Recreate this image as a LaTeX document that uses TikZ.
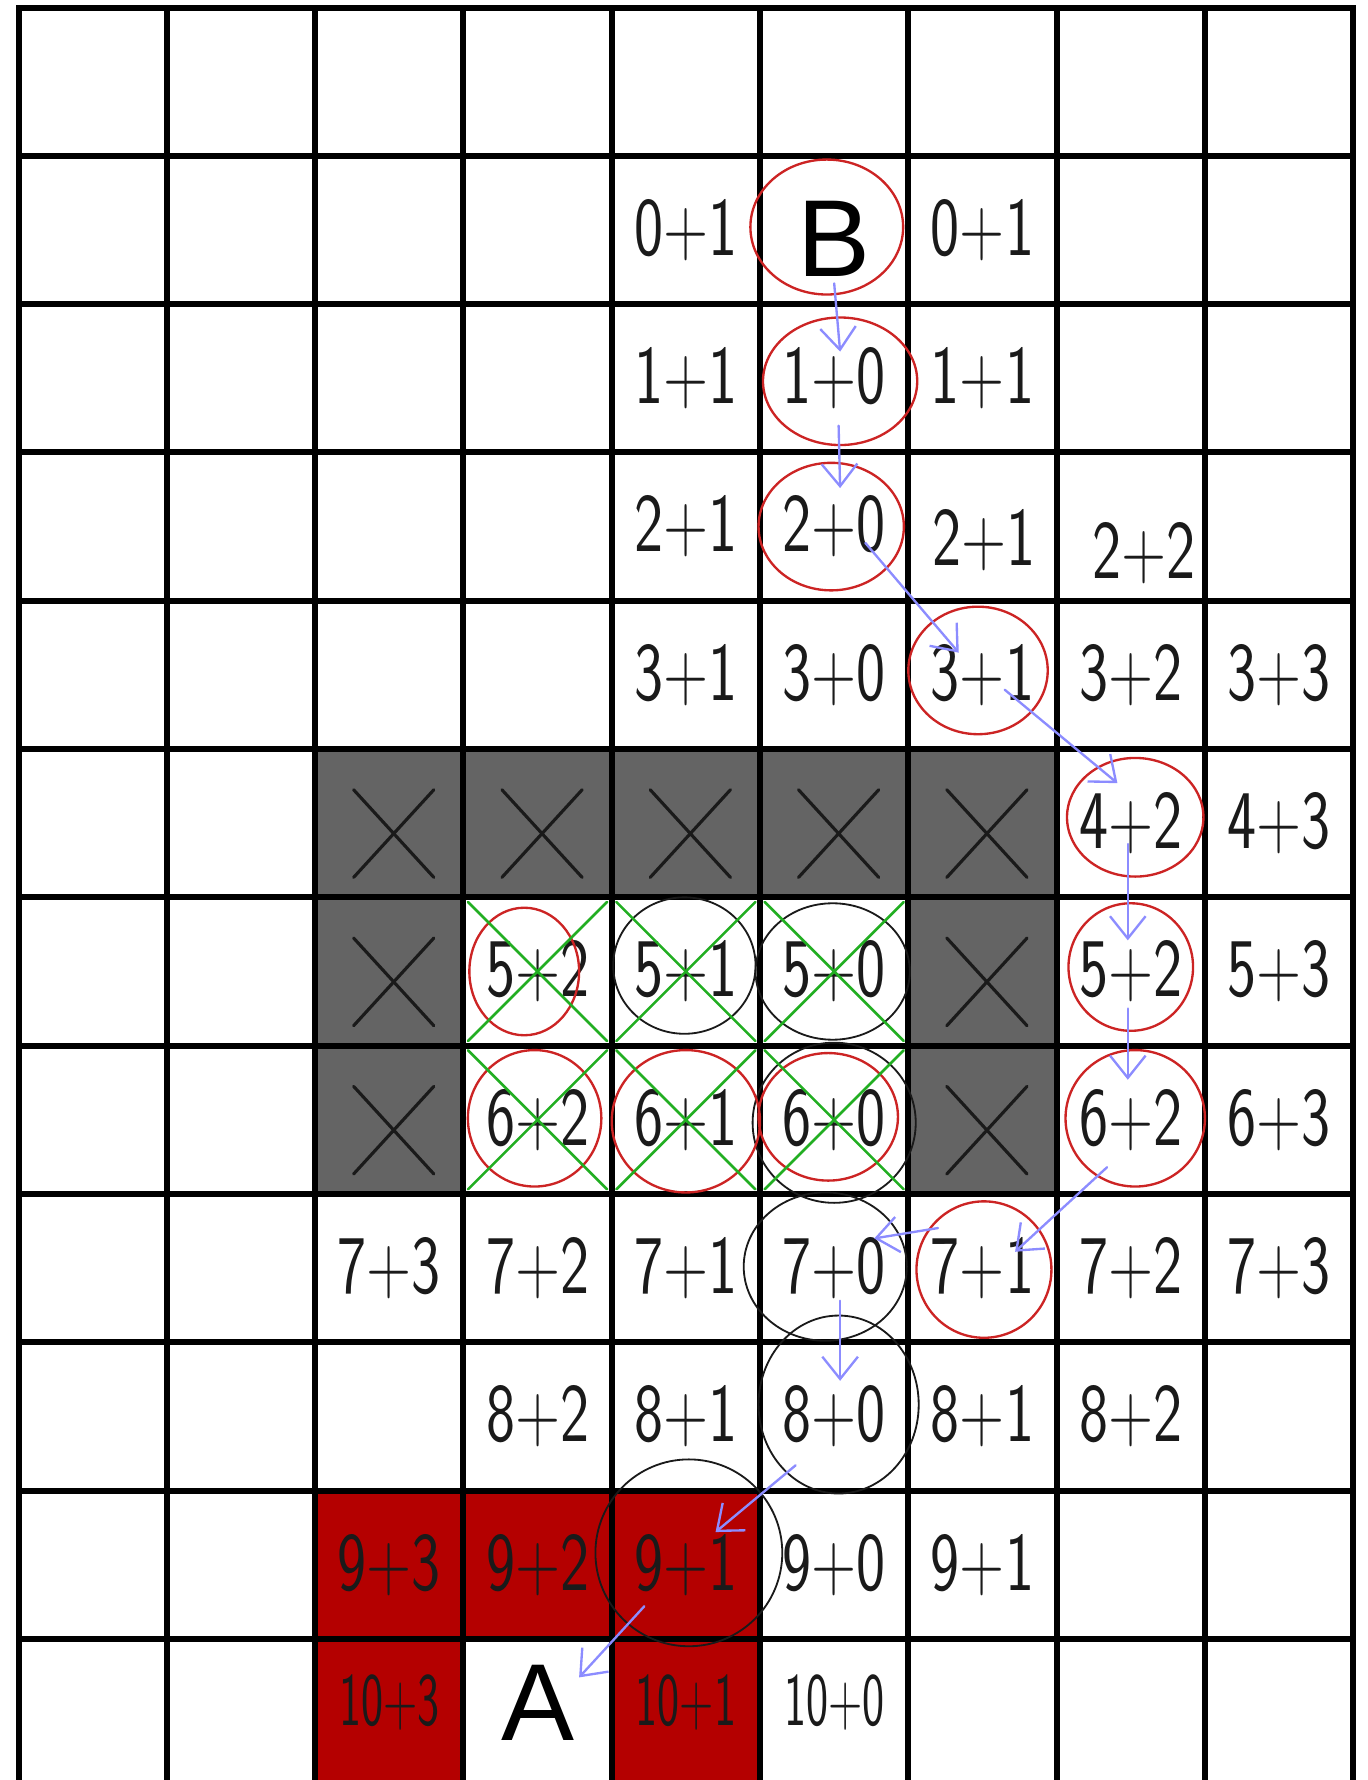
\documentclass[tikz,border=0pt]{standalone}
\usepackage{graphicx}
\usepackage{fontspec}
\newfontfamily\letterfont{Liberation Sans}
\usetikzlibrary{arrows.meta,calc,shapes.geometric,shapes.misc}
\definecolor{wall}{HTML}{646464}
\definecolor{goal}{HTML}{B40000}
\definecolor{ring}{HTML}{CC2424}
\definecolor{pen}{HTML}{1A1A1A}
\definecolor{drop}{HTML}{22AE22}
\definecolor{route}{HTML}{8C8CFF}
\newcommand{\hand}[1]{\scalebox{0.74}[1]{#1}}
\newcommand{\handsmall}[1]{\scalebox{0.62}[1]{#1}}
\tikzset{
  >={Straight Barb[length=3mm,width=4.8mm]},
  every picture/.style={line cap=round, line join=round},
  gridline/.style={draw=black, line width=2.3pt, line cap=rect},
  val/.style={font=\sffamily\fontsize{32}{32}\selectfont, text=pen, inner sep=1pt},
  smallval/.style={val, font=\sffamily\fontsize{29}{29}\selectfont},
  letter/.style={font=\letterfont\fontsize{42}{42}\selectfont, text=black, inner sep=1pt},
  blocked/.style={cross out, draw=pen, line width=1.2pt, minimum width=1.04cm,
    minimum height=1.14cm, inner sep=0pt},
  dropped/.style={cross out, draw=drop, line width=1pt, minimum width=1.84cm,
    minimum height=1.84cm, inner sep=0pt},
  redring/.style={ellipse, draw=ring, line width=0.9pt, inner sep=0pt},
  blackring/.style={ellipse, draw=pen, line width=0.7pt, inner sep=0pt},
  routearr/.style={->, draw=route, line width=0.9pt},
}
\begin{document}
\begin{tikzpicture}[x=2cm, y=2cm]
  \useasboundingbox (-0.125,0.051) rectangle (9.093,-11.952);
  \clip (-0.125,0.051) rectangle (9.093,-11.952);
  % blocked and target cells
  \fill[wall] (2,-5) rectangle (7,-6);
  \fill[wall] (2,-6) rectangle (3,-8);
  \fill[wall] (6,-6) rectangle (7,-8);
  \fill[goal] (2,-10) rectangle (5,-11);
  \fill[goal] (2,-11) rectangle (3,-12);
  \fill[goal] (4,-11) rectangle (5,-12);
  % grid
  \foreach \c in {0,...,9} \draw[gridline] (\c,0) -- (\c,-12);
  \foreach \r in {0,...,12} \draw[gridline] (0,-\r) -- (9,-\r);
  % costs
  \foreach \c/\r/\t in {4/1/0+1, 6/1/0+1,
      4/2/1+1, 5/2/1+0, 6/2/1+1,
      4/3/2+1, 5/3/2+0,
      4/4/3+1, 5/4/3+0, 6/4/3+1, 7/4/3+2, 8/4/3+3,
      7/5/4+2, 8/5/4+3,
      3/6/5+2, 4/6/5+1, 5/6/5+0, 7/6/5+2, 8/6/5+3,
      3/7/6+2, 4/7/6+1, 5/7/6+0, 7/7/6+2, 8/7/6+3,
      2/8/7+3, 3/8/7+2, 4/8/7+1, 5/8/7+0, 6/8/7+1, 7/8/7+2, 8/8/7+3,
      3/9/8+2, 4/9/8+1, 5/9/8+0, 6/9/8+1, 7/9/8+2,
      2/10/9+3, 3/10/9+2, 4/10/9+1, 5/10/9+0, 6/10/9+1}
    \node[val] (v\r-\c) at (\c+0.5,-\r-0.5) {\hand{\t}};
  \node[val] (v3-6) at (6.51,-3.59) {\hand{2+1}};
  \node[val] (v3-7) at (7.59,-3.68) {\hand{2+2}};
  \foreach \c/\t in {2/10+3, 4/10+1, 5/10+0}
    \node[smallval] (v11-\c) at (\c+0.5,-11.43) {\handsmall{\t}};
  \node[letter] (B) at (5.5,-1.56) {B};
  \node[letter] (A) at (3.5,-11.43) {A};
  % walls
  \foreach \c/\r in {2/5,3/5,4/5,5/5,6/5,2/6,6/6,2/7,6/7}
    \node[blocked] (x\r-\c) at (\c+0.53,-\r-0.57) {};
  % visited
  \foreach \n/\x/\y/\w/\h in {4-6/4.49/6.46/1.92/1.84, 6-5/5.49/6.5/2.08/1.84,
      7-5/5.5/7.52/2.2/2.16, 8-5/5.44/8.49/2.2/2.0, 9-5/5.53/9.42/2.16/2.4,
      10-4/4.52/10.42/2.52/2.52}
    \node[blackring, minimum width=\w cm, minimum height=\h cm] (loop\n) at (\x,-\y) {};
  \foreach \n/\x/\y/\w/\h in {B/5.45/1.48/2.06/1.82, 2-5/5.54/2.52/2.08/1.72,
      3-5/5.48/3.5/1.96/1.72, 4-6/6.47/4.47/1.88/1.72, 5-7/7.53/5.46/1.84/1.6,
      6-7/7.5/6.47/1.68/1.72, 7-7/7.53/7.49/1.88/1.84, 8-6/6.51/8.51/1.82/1.84,
      6-3/3.41/6.5/1.48/1.72, 7-3/3.48/7.49/1.8/1.84, 7-4/4.5/7.51/2.0/1.92,
      7-5/5.46/7.48/1.88/1.72}
    \node[redring, minimum width=\w cm, minimum height=\h cm] (ring\n) at (\x,-\y) {};
  % dead ends
  \foreach \c/\r in {3/6,4/6,5/6,3/7,4/7,5/7}
    \node[dropped] (d\r-\c) at (\c+0.5,-\r-0.5) {};
  % path
  \draw[routearr] ($(B)+(0,-0.30)$) -- ($(v2-5)+(0.04,0.18)$);
  \draw[routearr] ($(v2-5)+(0.03,-0.32)$) -- ($(v3-5)+(0.04,0.26)$);
  \draw[routearr] ($(v3-5)+(0.21,-0.11)$) -- ($(v4-6)+(-0.16,0.15)$);
  \draw[routearr] ($(v4-6)+(0.15,-0.1)$) -- ($(v5-7)+(-0.09,0.27)$);
  \draw[routearr] ($(v5-7)+(-0.02,-0.14)$) -- ($(v6-7)+(-0.02,0.21)$);
  \draw[routearr] ($(v6-7)+(-0.02,-0.25)$) -- ($(v7-7)+(-0.02,0.27)$);
  \draw[routearr] ($(v7-7)+(-0.16,-0.32)$) -- ($(v8-6)+(0.22,0.11)$);
  \draw[routearr] ($(v8-6)+(-0.3,0.27)$) -- ($(v8-5)+(0.27,0.2)$);
  \draw[routearr] ($(v8-5)+(0.04,-0.22)$) -- ($(v9-5)+(0.04,0.24)$);
  \draw[routearr] ($(v9-5)+(-0.26,-0.33)$) -- ($(v10-4)+(0.2,0.22)$);
  \draw[routearr] ($(v10-4)+(-0.28,-0.28)$) -- ($(A)+(0.28,0.17)$);
\end{tikzpicture}
\end{document}
